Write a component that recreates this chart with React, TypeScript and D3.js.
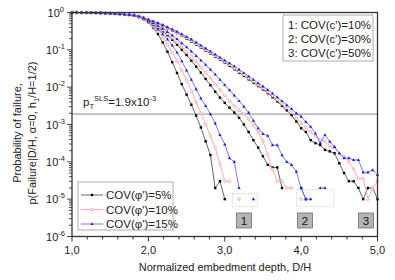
import React, { useEffect } from "react";
import * as d3 from "d3";

// x grid: D/H from 1.0 to 5.0 in steps of 1/16
const xGrid: number[] = d3.range(65).map((i) => 1 + i / 16);

// log10 of probability of failure, shared flat start (D/H 1.0 .. 1.75)
const flat: (number | null)[] = [0, 0, -0.002, -0.004, -0.007, -0.01, -0.014, -0.019, -0.025, -0.032, -0.04, -0.05, -0.062];

// COV(c')=10%
const g1k: (number | null)[] = [...flat, -0.08, -0.12, -0.18, -0.27, -0.40, -0.58, -0.80, -1.05, -1.33, -1.62, -1.92, -2.2, -2.47, -2.76, -3.08, -3.45, -3.82, -4.7, -4.52, -5];
const g1r: (number | null)[] = [...flat, -0.08, -0.12, -0.18, -0.26, -0.37, -0.51, -0.67, -0.86, -1.07, -1.3, -1.55, -1.82, -2.1, -2.4, -2.7, -3.0, -3.3, -3.62, -4.05, -4.52, -4.52, null, -5];
const g1b: (number | null)[] = [...flat, -0.08, -0.11, -0.17, -0.25, -0.34, -0.45, -0.58, -0.72, -0.88, -1.07, -1.3, -1.55, -1.8, -2.05, -2.3, -2.5, -2.72, -2.97, -3.28, -3.53, -3.9, -4.0, -4.7, null, null, -5];
// COV(c')=30%
const g2k: (number | null)[] = [...flat, -0.075, -0.11, -0.16, -0.23, -0.31, -0.40, -0.50, -0.61, -0.73, -0.86, -1.0, -1.14, -1.29, -1.45, -1.61, -1.78, -1.95, -2.12, -2.28, -2.42, -2.55, -2.68, -2.82, -3.0, -3.2, -3.42, -3.62, -3.85, -4.08, -4.15, -4.15, -4.7, null, null, null, -4.7, -5];
const g2r: (number | null)[] = [...flat, -0.075, -0.11, -0.16, -0.23, -0.30, -0.38, -0.47, -0.57, -0.68, -0.80, -0.92, -1.05, -1.18, -1.32, -1.46, -1.61, -1.76, -1.92, -2.07, -2.22, -2.37, -2.5, -2.62, -2.72, -2.85, -3.02, -3.2, -3.45, -3.8, -4.2, -4.52, -4.52, -4.7, -4.7, null, -5];
const g2b: (number | null)[] = [...flat, -0.075, -0.11, -0.155, -0.22, -0.28, -0.35, -0.43, -0.52, -0.61, -0.71, -0.82, -0.93, -1.04, -1.16, -1.28, -1.4, -1.53, -1.66, -1.8, -1.94, -2.08, -2.22, -2.37, -2.52, -2.68, -2.9, -3.1, -3.25, -3.3, -3.55, -3.55, -3.82, -4.0, -4.08, -4.26, -4.7, -5, -5, null, -4.7, -4.7];
// COV(c')=50%
const g3k: (number | null)[] = [...flat, -0.07, -0.1, -0.145, -0.2, -0.25, -0.3, -0.36, -0.42, -0.48, -0.55, -0.62, -0.7, -0.78, -0.86, -0.94, -1.02, -1.1, -1.18, -1.26, -1.34, -1.43, -1.52, -1.61, -1.7, -1.79, -1.88, -1.97, -2.06, -2.16, -2.27, -2.38, -2.5, -2.62, -2.75, -2.92, -3.1, -3.2, -3.42, -3.5, -3.55, -3.68, -3.72, -3.77, -4.04, -4.3, -4.52, -4.52, -4.7, -5, -4.7, -4.7, -5];
const g3r: (number | null)[] = [...flat, -0.07, -0.1, -0.14, -0.19, -0.24, -0.29, -0.35, -0.41, -0.47, -0.54, -0.61, -0.68, -0.76, -0.84, -0.92, -1.0, -1.08, -1.16, -1.24, -1.32, -1.4, -1.49, -1.58, -1.67, -1.76, -1.85, -1.94, -2.03, -2.13, -2.23, -2.34, -2.45, -2.56, -2.68, -2.82, -2.95, -3.08, -3.2, -3.32, -3.4, -3.45, -3.58, -3.62, -3.78, -3.85, -4.0, -4.2, -4.45, -4.45, -5, -4.7, -4.52];
const g3b: (number | null)[] = [...flat, -0.07, -0.1, -0.14, -0.19, -0.235, -0.28, -0.33, -0.39, -0.45, -0.51, -0.58, -0.65, -0.72, -0.8, -0.88, -0.96, -1.04, -1.12, -1.2, -1.28, -1.36, -1.44, -1.53, -1.62, -1.71, -1.8, -1.89, -1.98, -2.07, -2.17, -2.27, -2.37, -2.48, -2.58, -2.7, -2.79, -2.93, -3.06, -3.24, -3.5, -3.28, -3.46, -3.6, -3.77, -3.9, -3.9, -3.95, -3.95, -4.28, -4.28, -4.22, -4.35];

const phiLabels = ["COV(\u03C6')=5%", "COV(\u03C6')=10%", "COV(\u03C6')=15%"];
const cLabels = ["1: COV(c')=10%", "2: COV(c')=30%", "3: COV(c')=50%"];
const xTicks = [1, 2, 3, 4, 5];
const yExps = [0, -1, -2, -3, -4, -5, -6];
const pThreshold = 1.9e-3;
const groupTags = ["1", "2", "3"];
const groupTagX = [3.25, 4.05, 4.85];
// dotted boxes around isolated points: [x0, x1, logY top, logY bottom]
const dotBoxes = [[3.1, 3.43, -4.85, -5.2], [3.94, 4.43, -4.75, -5.2]];

const series = [
  { v: g1k, k: 0 }, { v: g1r, k: 1 }, { v: g1b, k: 2 },
  { v: g2k, k: 0 }, { v: g2r, k: 1 }, { v: g2b, k: 2 },
  { v: g3k, k: 0 }, { v: g3r, k: 1 }, { v: g3b, k: 2 },
];

const lineCol = ["#555555", "#f4a3a3", "#6b6bf5"];
const markCol = ["#000000", "#f29090", "#1c1cd0"];
const FONT = "Liberation Sans, Arial, sans-serif";

function Marker({ k, x, y }: { k: number; x: number; y: number }) {
  if (k === 0) return <rect x={x - 1.2} y={y - 1.2} width={2.4} height={2.4} fill={markCol[0]} />;
  if (k === 1) return <circle cx={x} cy={y} r={1.3} fill="#fff" stroke={markCol[1]} strokeWidth={0.7} />;
  return <path d={`M${x},${y - 1.8}L${x + 1.6},${y + 1.1}L${x - 1.6},${y + 1.1}Z`} fill={markCol[2]} />;
}

export default function App() {
  useEffect(() => {
    document.body.style.margin = "0";
  }, []);
  const W = 395, H = 280;
  const x = d3.scaleLinear().domain([1, 5]).range([72, 377.5]);
  const y = d3.scaleLog().domain([1e-6, 1]).range([236.5, 12.5]);
  const ly = (v: number) => y(Math.pow(10, v));
  const line = d3
    .line<number | null>()
    .defined((d) => d !== null)
    .x((_d, i) => x(xGrid[i]))
    .y((d) => ly(d as number));

  const xMinor = d3.range(1, 5.0001, 0.2);
  const yAll = y.ticks();

  return (
    <svg width={W} height={H} style={{ position: "absolute", left: 0, top: 0, fontFamily: FONT }}>
      <rect width={W} height={H} fill="#fff" />
      {/* threshold */}
      <line x1={x(1)} x2={x(5)} y1={y(pThreshold)} y2={y(pThreshold)} stroke="#8a8a8a" strokeWidth={1} />
      {/* dotted boxes */}
      {dotBoxes.map((b, i) => (
        <rect key={i} x={x(b[0])} y={ly(b[2])} width={x(b[1]) - x(b[0])} height={ly(b[3]) - ly(b[2])} fill="none" stroke="#bfe0bf" strokeWidth={1} strokeDasharray="1.5,1.5" />
      ))}
      {/* series */}
      {series.map((s, si) => (
        <g key={si}>
          <path d={line(s.v) || ""} fill="none" stroke={lineCol[s.k]} strokeWidth={0.9} />
          {s.v.map((v, i) => (v === null ? null : <Marker key={i} k={s.k} x={x(xGrid[i])} y={ly(v)} />))}
        </g>
      ))}
      {/* frame */}
      <rect x={x(1)} y={y(1)} width={x(5) - x(1)} height={y(1e-6) - y(1)} fill="none" stroke="#333" strokeWidth={1.3} />
      {/* x ticks */}
      {xMinor.map((t, i) => {
        const major = Math.abs(t - Math.round(t)) < 1e-6;
        return <line key={i} x1={x(t)} x2={x(t)} y1={y(1e-6)} y2={y(1e-6) + (major ? 5 : 3)} stroke="#333" strokeWidth={1} />;
      })}
      {xTicks.map((t) => (
        <text key={t} x={x(t)} y={254} textAnchor="middle" fontSize={11} fill="#222">
          {d3.format(".1f")(t).replace(".", ",")}
        </text>
      ))}
      {/* y ticks */}
      {yAll.map((t, i) => {
        const e = Math.log10(t);
        const major = Math.abs(e - Math.round(e)) < 1e-6;
        return <line key={i} x1={x(1)} x2={x(1) - (major ? 5 : 3)} y1={y(t)} y2={y(t)} stroke="#333" strokeWidth={0.9} />;
      })}
      {yExps.map((e) => (
        <text key={e} x={e === 0 ? 64 : 65} y={y(Math.pow(10, e)) + 4} textAnchor="end" fontSize={11} fill="#222">
          10
          <tspan dy={-5} fontSize={7.5}>{e}</tspan>
        </text>
      ))}
      {/* axis titles */}
      <text transform="translate(21,133) rotate(-90)" textAnchor="middle" fontSize={11} fill="#222">Probability of failure,</text>
      <text transform="translate(36,133) rotate(-90)" textAnchor="middle" fontSize={11} fill="#222">
        p(Failure|D/H, α=0, h<tspan dy={2.5} fontSize={7.5}>1</tspan><tspan dy={-2.5}>/H=1/2)</tspan>
      </text>
      <text x={225} y={271} textAnchor="middle" fontSize={11} fill="#222">Normalized embedment depth, D/H</text>
      {/* p_T label */}
      <text x={83} y={106} fontSize={11.5} fill="#222">
        p<tspan dy={2.5} fontSize={7.5}>T</tspan>
        <tspan dy={-8} fontSize={7.5}>SLS</tspan>
        <tspan dy={5.5}>=1.9x10</tspan>
        <tspan dy={-5} fontSize={7.5}>-3</tspan>
      </text>
      {/* upper legend */}
      <rect x={283} y={15} width={90} height={46} fill="#fff" stroke="#999" strokeWidth={0.8} />
      {cLabels.map((c, i) => (
        <text key={c} x={288} y={29 + i * 14} fontSize={11.5} fill="#222">{c}</text>
      ))}
      {/* lower legend */}
      <rect x={78} y={182} width={95} height={48} fill="#fff" stroke="#999" strokeWidth={0.8} />
      {phiLabels.map((c, i) => (
        <g key={c}>
          <line x1={81} x2={103} y1={195 + i * 14.5} y2={195 + i * 14.5} stroke={lineCol[i]} strokeWidth={0.9} />
          <Marker k={i} x={92} y={195 + i * 14.5} />
          <text x={106} y={199 + i * 14.5} fontSize={11.5} fill="#222">{c}</text>
        </g>
      ))}
      {/* group tags */}
      {groupTags.map((g, i) => (
        <g key={g}>
          <rect x={x(groupTagX[i]) - 7.5} y={213} width={15} height={15} fill="#b4b4b4" stroke="#6e6e6e" strokeWidth={0.8} />
          <text x={x(groupTagX[i])} y={225} textAnchor="middle" fontSize={11.5} fill="#111">{g}</text>
        </g>
      ))}
    </svg>
  );
}
